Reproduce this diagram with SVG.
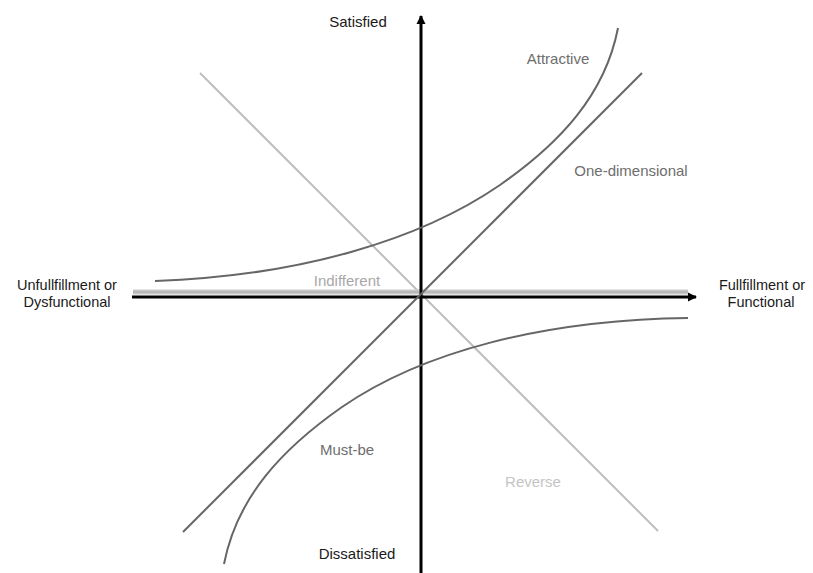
<svg xmlns="http://www.w3.org/2000/svg" width="813" height="573" viewBox="0 0 813 573">
<style>
text{font-family:"Liberation Sans",Arial,sans-serif;font-size:15px}
.dark{fill:#1a1a1a}
.mid{fill:#6e6e6e}
.two{font-size:14.5px}
.curve{fill:none;stroke:#666;stroke-width:2}
.axis{fill:none;stroke:#000;stroke-width:3}
</style>
<defs>
<marker id="ah" markerWidth="10" markerHeight="10" refX="8" refY="5" orient="auto" markerUnits="userSpaceOnUse">
<path d="M0,0.5 L9,5 L0,9.5 Z" fill="#000"/>
</marker>
</defs>
<rect width="813" height="573" fill="#fff"/>
<g id="connectors">
<line x1="200" y1="73" x2="658" y2="531" stroke="#bdbdbd" stroke-width="2"/>
<line x1="133" y1="292" x2="688" y2="292" stroke="#c8c8c8" stroke-width="5"/>
<line x1="133" y1="292" x2="688" y2="292" stroke="#a8a8a8" stroke-width="1.2"/>
<line class="axis" x1="132" y1="297" x2="696" y2="297" marker-end="url(#ah)"/>
<line class="axis" x1="421" y1="573" x2="421" y2="16" marker-end="url(#ah)"/>
<line class="curve" x1="183" y1="532" x2="642" y2="73"/>
<path id="attractive" class="curve" d="M155,281 C300,276 420,240 500,185 C560,143 605,95 618,28"/>
<path id="mustbe" class="curve" d="M688,318 C542,320 422,352 342,407 C282,449 237,497 224,564"/>
</g>
<g id="label-satisfied"><text class="dark" x="358" y="27" text-anchor="middle">Satisfied</text></g>
<g id="label-dissatisfied"><text class="dark" x="357" y="559" text-anchor="middle">Dissatisfied</text></g>
<g id="label-unfulfill"><text class="dark two" x="67" y="290" text-anchor="middle">Unfullfillment or</text><text class="dark two" x="67" y="307" text-anchor="middle">Dysfunctional</text></g>
<g id="label-fulfill"><text class="dark two" x="762" y="290" text-anchor="middle">Fullfillment or</text><text class="dark two" x="761" y="307" text-anchor="middle">Functional</text></g>
<g id="label-attractive"><text class="mid" x="558" y="64" text-anchor="middle">Attractive</text></g>
<g id="label-onedim"><text class="mid" x="631" y="176" text-anchor="middle">One-dimensional</text></g>
<g id="label-indifferent"><text x="347" y="286" text-anchor="middle" fill="#a8a8a8">Indifferent</text></g>
<g id="label-mustbe"><text class="mid" x="347" y="455" text-anchor="middle">Must-be</text></g>
<g id="label-reverse"><text x="533" y="487" text-anchor="middle" fill="#c4c4c4">Reverse</text></g>
</svg>
